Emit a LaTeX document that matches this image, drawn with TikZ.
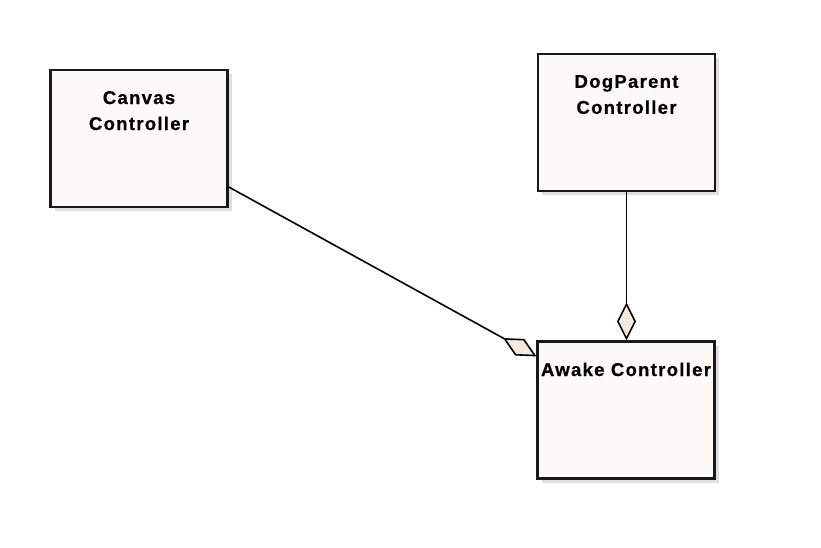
\documentclass[tikz,border=0pt]{standalone}
\usepackage{fontspec}
\usepackage{tikz}
\usetikzlibrary{positioning,shadows,arrows.meta}
\newfontfamily\classfont[LetterSpace=7,FakeBold=0.6]{Liberation Sans}
\definecolor{boxcream}{HTML}{FCF9F6}
\definecolor{tipcream}{HTML}{F4EADC}
\tikzset{
  classbox/.style={rectangle,draw=black!90,line width=2.2pt,fill=boxcream,
    minimum width=177pt,minimum height=137pt,inner sep=0pt,
    drop shadow={shadow xshift=4pt,shadow yshift=-4pt,fill=black!25}},
  classname/.style={align=center,inner sep=0pt,
    font=\classfont\bfseries\fontsize{18.5}{26}\selectfont},
  aggr/.style={line width=1.6pt,-{Diamond[length=38pt,width=19pt,fill=tipcream]}}
}
\newcommand{\classbox}[4][]{\node[classbox,#1] at (#2) (#3) {};
  \node[classname,below=22pt of #3.north] (#3-name) {#4}}
\begin{document}
\begin{tikzpicture}[x=1pt,y=1pt]
  \useasboundingbox (0,0) rectangle (821,547);
  \classbox{139,408.5}{canvas}{Canvas\\Controller};
  \classbox{626.5,424.5}{dogparent}{DogParent\\Controller};
  \classbox{626,137}{awake}{Awake Controller};
  \draw[aggr] ([yshift=-118pt]canvas.north east) -- ([yshift=-16pt]awake.north west);
  \draw[aggr] (dogparent.south) -- (dogparent.south |- awake.north);
\end{tikzpicture}
\end{document}
